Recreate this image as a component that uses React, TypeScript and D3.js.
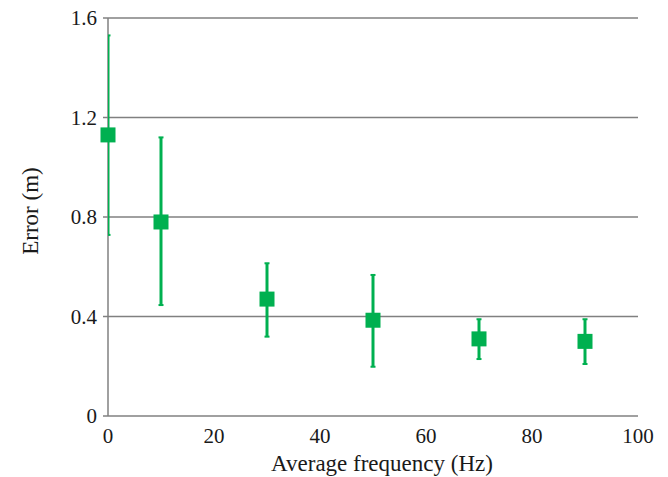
import React, { useEffect, useRef } from "react";
import * as d3 from "d3";

// data
const frequencies = [0, 10, 30, 50, 70, 90];
const meanError = [1.13, 0.78, 0.47, 0.385, 0.31, 0.3];
const upperError = [1.53, 1.12, 0.614, 0.567, 0.389, 0.389];
const lowerError = [0.728, 0.446, 0.319, 0.198, 0.229, 0.209];
const xTicks = [0, 20, 40, 60, 80, 100];
const yTicks = [0, 0.4, 0.8, 1.2, 1.6];

const App = () => {
  const chartRef = useRef<SVGSVGElement>(null);

  useEffect(() => {
    const svg = d3.select(chartRef.current);
    svg.selectAll("*").remove();

    const width = 668;
    const height = 477;
    const margin = { top: 18, right: 30, bottom: 61, left: 108 };
    const green = "#00b050";
    const grey = "#808080";
    const font = "Times New Roman, Liberation Serif, serif";

    const x = d3
      .scaleLinear()
      .domain([0, 100])
      .range([margin.left, width - margin.right]);
    const y = d3
      .scaleLinear()
      .domain([0, 1.6])
      .range([height - margin.bottom, margin.top]);

    svg.attr("width", width).attr("height", height);

    svg
      .append("defs")
      .append("clipPath")
      .attr("id", "plot-clip")
      .append("rect")
      .attr("x", margin.left)
      .attr("y", 0)
      .attr("width", width - margin.left)
      .attr("height", height);

    // gridlines
    svg
      .append("g")
      .selectAll("line")
      .data(yTicks)
      .enter()
      .append("line")
      .attr("x1", margin.left - 5)
      .attr("x2", x(100))
      .attr("y1", (d) => y(d))
      .attr("y2", (d) => y(d))
      .attr("stroke", grey)
      .attr("stroke-width", 1.5);

    // y axis line
    svg
      .append("line")
      .attr("x1", x(0))
      .attr("x2", x(0))
      .attr("y1", y(1.6))
      .attr("y2", y(0))
      .attr("stroke", grey)
      .attr("stroke-width", 1.5);

    const label = (sel: any, size: number) =>
      sel
        .attr("font-family", font)
        .attr("font-size", size)
        .attr("fill", "#1a1a1a");

    // y tick labels
    svg
      .append("g")
      .selectAll("text")
      .data(yTicks)
      .enter()
      .append("text")
      .attr("x", margin.left - 11)
      .attr("y", (d) => y(d))
      .attr("dy", "0.35em")
      .attr("text-anchor", "end")
      .call(label, 21)
      .text((d) => (d === 0 ? "0" : d3.format(".1f")(d)));

    // x tick labels
    svg
      .append("g")
      .selectAll("text")
      .data(xTicks)
      .enter()
      .append("text")
      .attr("x", (d) => x(d))
      .attr("y", y(0) + 27)
      .attr("text-anchor", "middle")
      .call(label, 21)
      .text((d) => d);

    // axis titles
    svg
      .append("text")
      .attr("x", 382)
      .attr("y", 471)
      .attr("text-anchor", "middle")
      .call(label, 23)
      .text("Average frequency (Hz)");

    svg
      .append("text")
      .attr("transform", `translate(38,211) rotate(-90)`)
      .attr("text-anchor", "middle")
      .call(label, 23)
      .text("Error (m)");

    const points = frequencies.map((f, i) => ({
      f,
      mean: meanError[i],
      hi: upperError[i],
      lo: lowerError[i],
    }));

    // error bars
    const bars = svg
      .append("g")
      .attr("clip-path", "url(#plot-clip)")
      .selectAll("g")
      .data(points)
      .enter()
      .append("g");

    bars
      .append("line")
      .attr("x1", (d) => x(d.f))
      .attr("x2", (d) => x(d.f))
      .attr("y1", (d) => y(d.hi))
      .attr("y2", (d) => y(d.lo))
      .attr("stroke", green)
      .attr("stroke-width", 3);

    ["hi", "lo"].forEach((k) => {
      bars
        .append("line")
        .attr("x1", (d) => x(d.f) - 2.5)
        .attr("x2", (d) => x(d.f) + 2.5)
        .attr("y1", (d: any) => y(d[k]))
        .attr("y2", (d: any) => y(d[k]))
        .attr("stroke", green)
        .attr("stroke-width", 2);
    });

    // square markers
    const size = 15;
    svg
      .append("g")
      .selectAll("rect")
      .data(points)
      .enter()
      .append("rect")
      .attr("x", (d) => x(d.f) - size / 2)
      .attr("y", (d) => y(d.mean) - size / 2)
      .attr("width", size)
      .attr("height", size)
      .attr("fill", green);
  }, []);

  return (
    <svg
      ref={chartRef}
      style={{ position: "absolute", left: 0, top: 0, background: "#fff" }}
    ></svg>
  );
};

export default App;
